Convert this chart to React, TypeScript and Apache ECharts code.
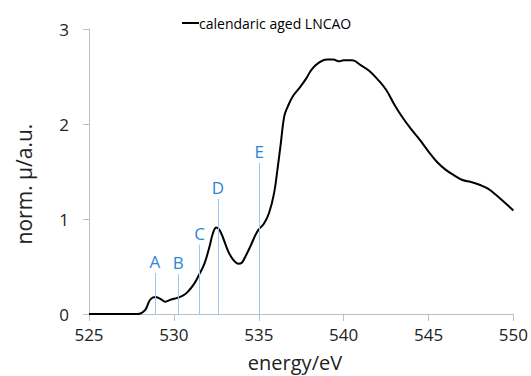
import React, { useEffect, useRef } from "react";
import * as echarts from "echarts";

const energy = [525, 526, 527, 527.9, 528.3, 528.6, 528.9, 529.2, 529.5, 529.8, 530.2, 530.5, 530.8, 531.2, 531.5, 531.8, 532.1, 532.3, 532.5, 532.7, 532.9, 533.2, 533.5, 533.8, 534.0, 534.2, 534.5, 534.8, 535.0, 535.3, 535.6, 535.9, 536.1, 536.3, 536.5, 536.7, 537.0, 537.4, 537.8, 538.1, 538.5, 539.0, 539.4, 539.7, 540.0, 540.5, 541.0, 541.5, 542.0, 542.5, 543.0, 543.5, 544.0, 544.5, 545.0, 545.5, 546.0, 546.5, 547.0, 547.5, 548.0, 548.5, 549.0, 549.5, 550.0];
const absorption = [0, 0, 0, 0, 0.04, 0.15, 0.18, 0.16, 0.13, 0.15, 0.17, 0.19, 0.23, 0.32, 0.42, 0.53, 0.71, 0.85, 0.91, 0.88, 0.8, 0.66, 0.57, 0.53, 0.54, 0.6, 0.71, 0.83, 0.89, 0.95, 1.06, 1.27, 1.52, 1.8, 2.08, 2.18, 2.29, 2.38, 2.48, 2.57, 2.64, 2.68, 2.68, 2.66, 2.67, 2.67, 2.62, 2.56, 2.47, 2.36, 2.2, 2.06, 1.94, 1.83, 1.71, 1.6, 1.52, 1.46, 1.41, 1.39, 1.36, 1.32, 1.25, 1.17, 1.09];

const markerNames = ["A", "B", "C", "D", "E"];
const markerEnergy = [528.88, 530.25, 531.52, 532.6, 535.02];
const markerHeight = [0.43, 0.42, 0.73, 1.21, 1.59];

const xTicks = { min: 525, max: 550, interval: 5 };
const yTicks = { min: 0, max: 3, interval: 1 };

const seriesName = "calendaric aged LNCAO";

export default function App() {
  const ref = useRef<HTMLDivElement>(null);
  useEffect(() => {
    if (!ref.current) return;
    document.body.style.margin = "0";
    const chart = echarts.init(ref.current, undefined, { renderer: "svg" });
    const font = "'Open Sans', sans-serif";
    const axisGray = "#BFBFBF";
    chart.setOption({
      animation: false,
      textStyle: { fontFamily: font },
      grid: { left: 89, right: 14, top: 29, bottom: 62, containLabel: false },
      legend: {
        show: true,
        data: [seriesName],
        left: 177,
        top: 11,
        icon: "rect",
        itemWidth: 17,
        itemHeight: 2,
        itemGap: 0,
        textStyle: { fontFamily: font, fontSize: 14, color: "#000", padding: [0, 0, 0, -5] },
      },
      xAxis: {
        type: "value",
        min: xTicks.min,
        max: xTicks.max,
        interval: xTicks.interval,
        axisLine: { show: true, lineStyle: { color: axisGray, width: 1 } },
        axisTick: { show: true, length: 7, inside: false, lineStyle: { color: axisGray } },
        splitLine: { show: false },
        axisLabel: { fontFamily: font, fontSize: 17, color: "#222", margin: 12 },
      },
      yAxis: {
        type: "value",
        min: yTicks.min,
        max: yTicks.max,
        interval: yTicks.interval,
        axisLine: { show: true, lineStyle: { color: axisGray, width: 1 } },
        axisTick: { show: true, length: 6, inside: false, lineStyle: { color: axisGray } },
        splitLine: { show: false },
        axisLabel: { fontFamily: font, fontSize: 17, color: "#222", margin: 20 },
      },
      graphic: [
        {
          type: "text",
          x: 295,
          y: 362,
          style: {
            text: "energy/eV",
            font: "20px 'Open Sans', sans-serif",
            fill: "#222",
            textAlign: "center",
            textVerticalAlign: "middle",
          },
        },
        {
          type: "text",
          x: 24,
          y: 184,
          rotation: Math.PI / 2,
          style: {
            text: "norm. µ/a.u.",
            font: "21px 'Open Sans', sans-serif",
            fill: "#222",
            textAlign: "center",
            textVerticalAlign: "middle",
          },
        },
      ],
      series: [
        {
          name: seriesName,
          type: "line",
          data: energy.map((e, i) => [e, absorption[i]]),
          smooth: 0.4,
          showSymbol: false,
          symbol: "none",
          lineStyle: { color: "#000", width: 2 },
          itemStyle: { color: "#000" },
          z: 3,
          markLine: {
            silent: true,
            symbol: ["none", "none"],
            lineStyle: { color: "#9DC8EC", width: 1, type: "solid" },
            label: {
              show: true,
              position: "end",
              formatter: "{b}",
              color: "#2E86D1",
              fontSize: 17,
              fontFamily: font,
              distance: 3,
            },
            data: markerNames.map((n, i) => [
              { name: n, coord: [markerEnergy[i], 0] },
              { coord: [markerEnergy[i], markerHeight[i]] },
            ]),
          },
        },
      ],
    });
    return () => chart.dispose();
  }, []);
  return <div ref={ref} style={{ width: 531, height: 376 }} />;
}
